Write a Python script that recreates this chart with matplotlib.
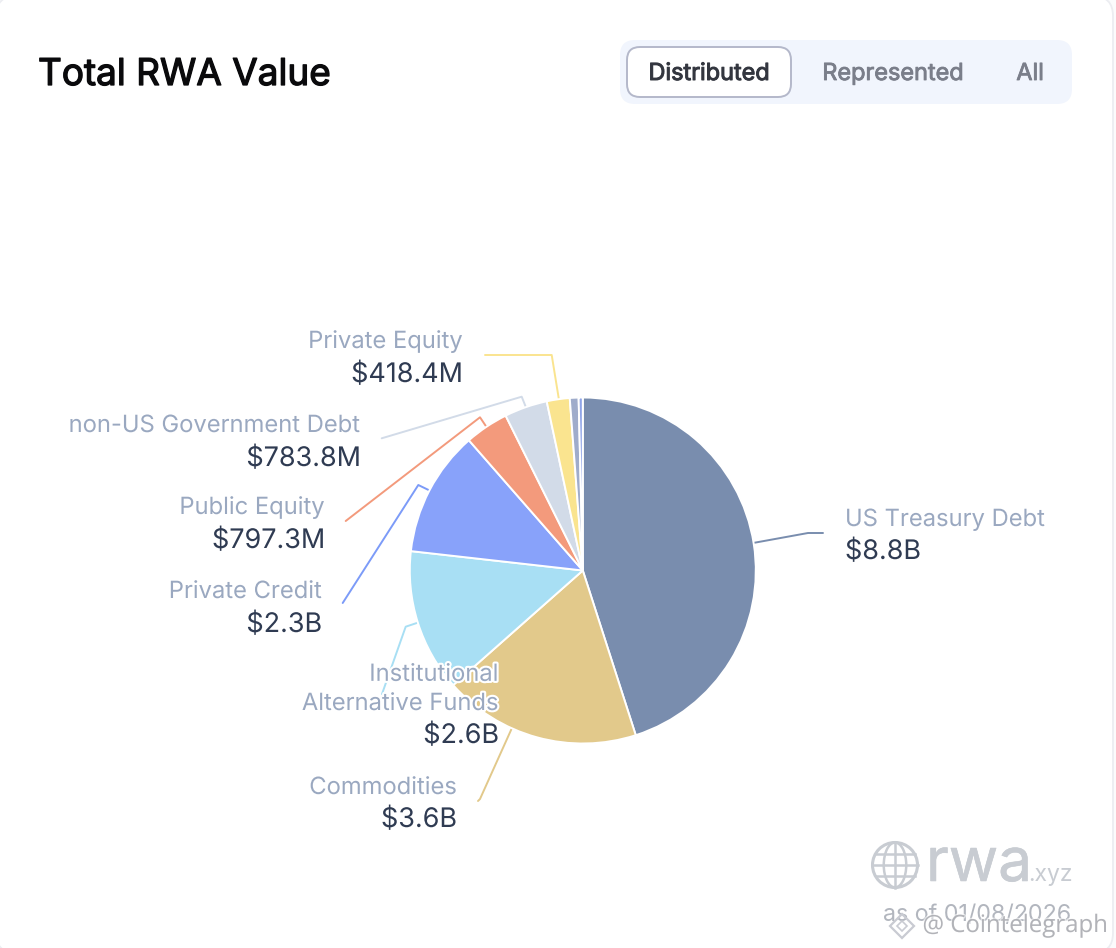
import matplotlib
matplotlib.use("Agg")
import matplotlib.pyplot as plt
import matplotlib.patheffects as pe
from matplotlib.patches import FancyBboxPatch, Circle, Ellipse, Polygon

plt.rcParams['font.family'] = ['Inter', 'DejaVu Sans']

categories = ["US Treasury Debt", "Commodities", "Institutional\nAlternative Funds", "Private Credit",
              "Public Equity", "non-US Government Debt", "Private Equity", "Other A", "Other B"]
values = [8.8, 3.6, 2.6, 2.3, 0.7973, 0.7838, 0.4184, 0.16, 0.075]
value_labels = ["$8.8B", "$3.6B", "$2.6B", "$2.3B", "$797.3M", "$783.8M", "$418.4M", "", ""]
colors = ["#798DAE", "#E2C98B", "#A8DFF4", "#88A2FA", "#F39A7C", "#D2DBE8", "#FAE48F", "#9FACCB", "#8FA4E8"]
line_colors = ["#798DAE", "#E2C98B", "#A8DFF4", "#7C9BF8", "#F39A7C", "#D2DBE8", "#FAE48F"]

# label anchor: x, name baseline, value baseline, alignment
label_pos = [(845, 526, 559, "left"), (457, 794, 827, "right"), (499, 710, 743, "right"),
             (322, 598, 632, "right"), (325, 514, 548, "right"), (361, 432, 466, "right"),
             (463, 348, 382, "right")]
leaders = [[(753, 543), (808, 533), (823, 533)],
           [(511.5, 729), (480, 799), (478, 801)],
           [(417.7, 622.7), (405.7, 626.7), (382, 694)],
           [(430, 490.7), (418.3, 485), (342.7, 603)],
           [(486.7, 427.3), (480, 417.3), (345.7, 521)],
           [(525.7, 406.7), (521.7, 396.7), (381.7, 438.3)],
           [(559, 400), (551.7, 355), (485, 355)]]

def heavy(color, w):
    return [pe.withStroke(linewidth=w, foreground=color)]

fig = plt.figure(figsize=(11.16, 9.48), dpi=100, facecolor="#FBFBFC")
ax = fig.add_axes([0, 0, 1, 1])

# card
ax.add_patch(FancyBboxPatch((-4, -4), 1117, 957, boxstyle="round,pad=0,rounding_size=20",
                            fc="white", ec="#ECEDF1", lw=1.3, zorder=0))

# pie
ax.pie(values, colors=colors, startangle=-90, counterclock=True, center=(582.8, 570.5), radius=173,
       frame=True, wedgeprops=dict(edgecolor="white", linewidth=1.4, zorder=3))
ax.set_xlim(0, 1116)
ax.set_ylim(948, 0)
ax.set_axis_off()

for path, c in zip(leaders, line_colors):
    ax.plot(*zip(*path), color=c, lw=1.4, zorder=2, solid_capstyle="round", solid_joinstyle="round")

halo = [pe.withStroke(linewidth=3, foreground="white")]
for cat, val, (x, yn, yv, ha) in zip(categories, value_labels, label_pos):
    ax.text(x, yn, cat, color="#9AA8C0", fontsize=17.1, ha=ha, va="baseline", zorder=5,
            linespacing=1.42, path_effects=halo, multialignment="right" if ha == "right" else "left")
    ax.text(x, yv, val, color="#2F3B52", fontsize=19.4, ha=ha, va="baseline", zorder=5, path_effects=halo)

# header
ax.text(38, 85, "Total RWA Value", color="#0A0A0C", fontsize=26.6, ha="left", va="baseline",
        path_effects=heavy("#0A0A0C", 0.9))
ax.add_patch(FancyBboxPatch((620, 40), 452, 64, boxstyle="round,pad=0,rounding_size=15",
                            fc="#F1F5FD", ec="none", zorder=1))
ax.add_patch(FancyBboxPatch((627, 47), 164, 50, boxstyle="round,pad=0,rounding_size=13",
                            fc="white", ec="#B4B8CA", lw=1.4, zorder=2))
ax.text(709, 80, "Distributed", color="#33363F", fontsize=16.9, ha="center", va="baseline", zorder=3,
        path_effects=heavy("#33363F", 0.7))
ax.text(893, 80, "Represented", color="#7A7E8A", fontsize=16.9, ha="center", va="baseline", zorder=3,
        path_effects=heavy("#7A7E8A", 0.6))
ax.text(1030, 80, "All", color="#7A7E8A", fontsize=16.9, ha="center", va="baseline", zorder=3,
        path_effects=heavy("#7A7E8A", 0.6))

# logo
g = "#C8CCD2"
gx, gy, gr = 895, 865, 22.5
ax.add_patch(Circle((gx, gy), gr, fc="none", ec=g, lw=2.2, zorder=2))
ax.add_patch(Ellipse((gx, gy), gr, 2 * gr, fc="none", ec=g, lw=1.8, zorder=2))
ax.plot([gx, gx], [gy - gr, gy + gr], color=g, lw=1.8, zorder=2)
ax.plot([gx - gr, gx + gr], [gy, gy], color=g, lw=1.8, zorder=2)
for dy, dx in ((-11, 19.5), (11, 19.5)):
    ax.plot([gx - dx, gx + dx], [gy + dy, gy + dy], color=g, lw=1.8, zorder=2)
ax.text(926, 881, "rwa", color=g, fontsize=43.5, ha="left", va="baseline", zorder=2, path_effects=heavy(g, 0.4))
ax.text(1028, 881, ".xyz", color=g, fontsize=16.5, ha="left", va="baseline", zorder=2)
ax.text(1071, 921, "as of 01/08/2026", color="#B2B6BE", fontsize=16.8, ha="right", va="baseline", zorder=2)

# watermark
ax.text(1108, 932, "@ Cointelegraph", color="#A0A2A8", alpha=0.75, fontsize=17.3, family=["Open Sans", "DejaVu Sans"],
        ha="right", va="baseline", zorder=4,
        path_effects=[pe.withStroke(linewidth=2, foreground="white", alpha=0.6)])
ax.add_patch(Polygon([(902, 914), (914, 926), (902, 938), (890, 926)], closed=True, fc="none", ec="#C9CBD2", lw=1.6, zorder=4))
ax.add_patch(Polygon([(902, 921), (907, 926), (902, 931), (897, 926)], closed=True, fc="none", ec="#C9CBD2", lw=1.2, zorder=4))

fig.savefig("out.png", dpi=100, facecolor=fig.get_facecolor())
